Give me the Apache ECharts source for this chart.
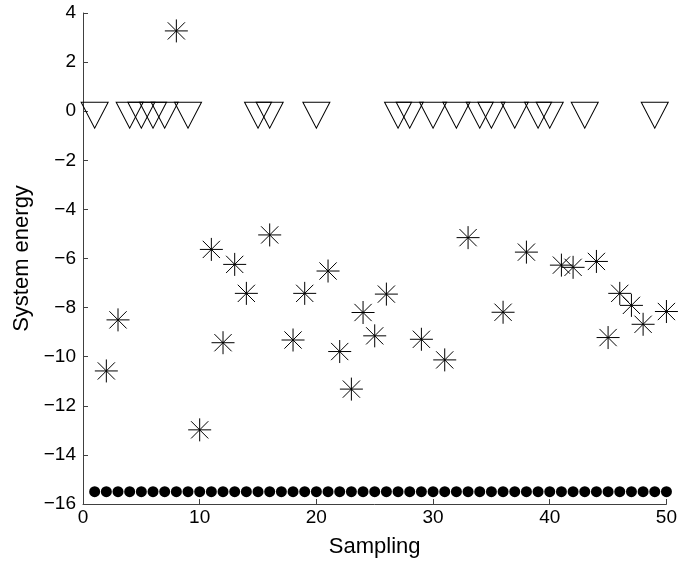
<!DOCTYPE html>
<html>
<head>
<meta charset="utf-8">
<script src="https://cdn.jsdelivr.net/npm/echarts@6/dist/echarts.min.js"></script>
<style>
  html, body { margin: 0; padding: 0; background: #fff; }
  #chart { width: 680px; height: 565px; }
</style>
</head>
<body>
<div id="chart"></div>
<script>
// samples where the energy sits at 0 (triangles)
const triangleSampling = [1, 4, 5, 6, 7, 9, 15, 16, 20, 27, 28, 30, 32, 34, 35, 37, 39, 40, 43, 49];
const triangleEnergy = [0, 0, 0, 0, 0, 0, 0, 0, 0, 0, 0, 0, 0, 0, 0, 0, 0, 0, 0, 0];

// scattered samples (asterisks)
const starSampling = [2, 3, 8, 10, 11, 12, 13, 14, 16, 18, 19, 21, 22, 23, 24, 25, 26, 29, 31, 33, 36, 38, 41, 42, 44, 45, 46, 47, 48, 50];
const starEnergy = [-10.58, -8.5, 3.27, -12.98, -5.63, -9.43, -6.24, -7.42, -5.04, -9.32, -7.42, -6.51, -9.79, -11.32, -8.2,
  -9.15, -7.45, -9.29, -10.13, -5.15, -8.19, -5.74, -6.27, -6.36, -6.12, -9.22, -7.42, -7.91, -8.68, -8.16];

// ground state line (filled dots)
const dotSampling = [1, 2, 3, 4, 5, 6, 7, 8, 9, 10, 11, 12, 13, 14, 15, 16, 17, 18, 19, 20, 21, 22, 23, 24, 25,
  26, 27, 28, 29, 30, 31, 32, 33, 34, 35, 36, 37, 38, 39, 40, 41, 42, 43, 44, 45, 46, 47, 48, 49, 50];
const dotEnergy = [-15.5, -15.5, -15.5, -15.5, -15.5, -15.5, -15.5, -15.5, -15.5, -15.5, -15.5, -15.5, -15.5, -15.5, -15.5,
  -15.5, -15.5, -15.5, -15.5, -15.5, -15.5, -15.5, -15.5, -15.5, -15.5, -15.5, -15.5, -15.5, -15.5, -15.5, -15.5, -15.5,
  -15.5, -15.5, -15.5, -15.5, -15.5, -15.5, -15.5, -15.5, -15.5, -15.5, -15.5, -15.5, -15.5, -15.5, -15.5, -15.5, -15.5, -15.5];

const xTicks = { min: 0, max: 50, step: 10 };
const yTicks = { min: -16, max: 4, step: 2 };

const pair = (xs, ys) => xs.map((x, i) => [x, ys[i]]);
const minus = v => String(v).replace('-', '\u2212');
const font = '"Liberation Sans", Arial, Helvetica, sans-serif';
const axisColor = '#404040';

const starPath = 'path://M0,-10L0,10M-10,0L10,0M-7.5,-7.5L7.5,7.5M-7.5,7.5L7.5,-7.5';
const triPath = 'path://M0,0L20,0L10,19Z';

const option = {
  animation: false,
  backgroundColor: '#fff',
  grid: { left: 83, right: 11, top: 13, bottom: 61, containLabel: false },
  xAxis: {
    type: 'value',
    min: xTicks.min, max: xTicks.max, interval: xTicks.step,
    name: 'Sampling', nameLocation: 'middle', nameGap: 32,
    nameTextStyle: { fontFamily: font, fontSize: 22, color: '#000' },
    axisLine: { onZero: false, lineStyle: { color: axisColor, width: 1 } },
    axisTick: { inside: true, length: 5, lineStyle: { color: axisColor } },
    axisLabel: { fontFamily: font, fontSize: 19, color: '#000', margin: 4, formatter: minus },
    splitLine: { show: false }
  },
  yAxis: {
    type: 'value',
    min: yTicks.min, max: yTicks.max, interval: yTicks.step,
    name: 'System energy', nameLocation: 'middle', nameGap: 47, nameRotate: 90,
    nameTextStyle: { fontFamily: font, fontSize: 22, color: '#000' },
    axisLine: { show: true, onZero: false, lineStyle: { color: axisColor, width: 1 } },
    axisTick: { show: true, inside: true, length: 5, lineStyle: { color: axisColor } },
    axisLabel: { fontFamily: font, fontSize: 19, color: '#000', margin: 7, formatter: minus },
    splitLine: { show: false }
  },
  series: [
    {
      type: 'scatter', silent: true,
      data: pair(dotSampling, dotEnergy),
      symbol: 'circle', symbolSize: 11,
      itemStyle: { color: '#000', opacity: 1 }
    },
    {
      type: 'scatter', silent: true,
      data: pair(starSampling, starEnergy),
      symbol: starPath, symbolSize: 23,
      itemStyle: { color: 'rgba(0,0,0,0)', borderColor: '#000', borderWidth: 1, opacity: 1 }
    },
    {
      type: 'scatter', silent: true,
      data: pair(triangleSampling, triangleEnergy),
      symbol: triPath, symbolSize: [27, 26], symbolOffset: [0, 4],
      itemStyle: { color: 'rgba(0,0,0,0)', borderColor: '#000', borderWidth: 1, opacity: 1 }
    }
  ]
};

const chart = echarts.init(document.getElementById('chart'), null, { renderer: 'canvas' });
chart.setOption(option);
</script>
</body>
</html>
